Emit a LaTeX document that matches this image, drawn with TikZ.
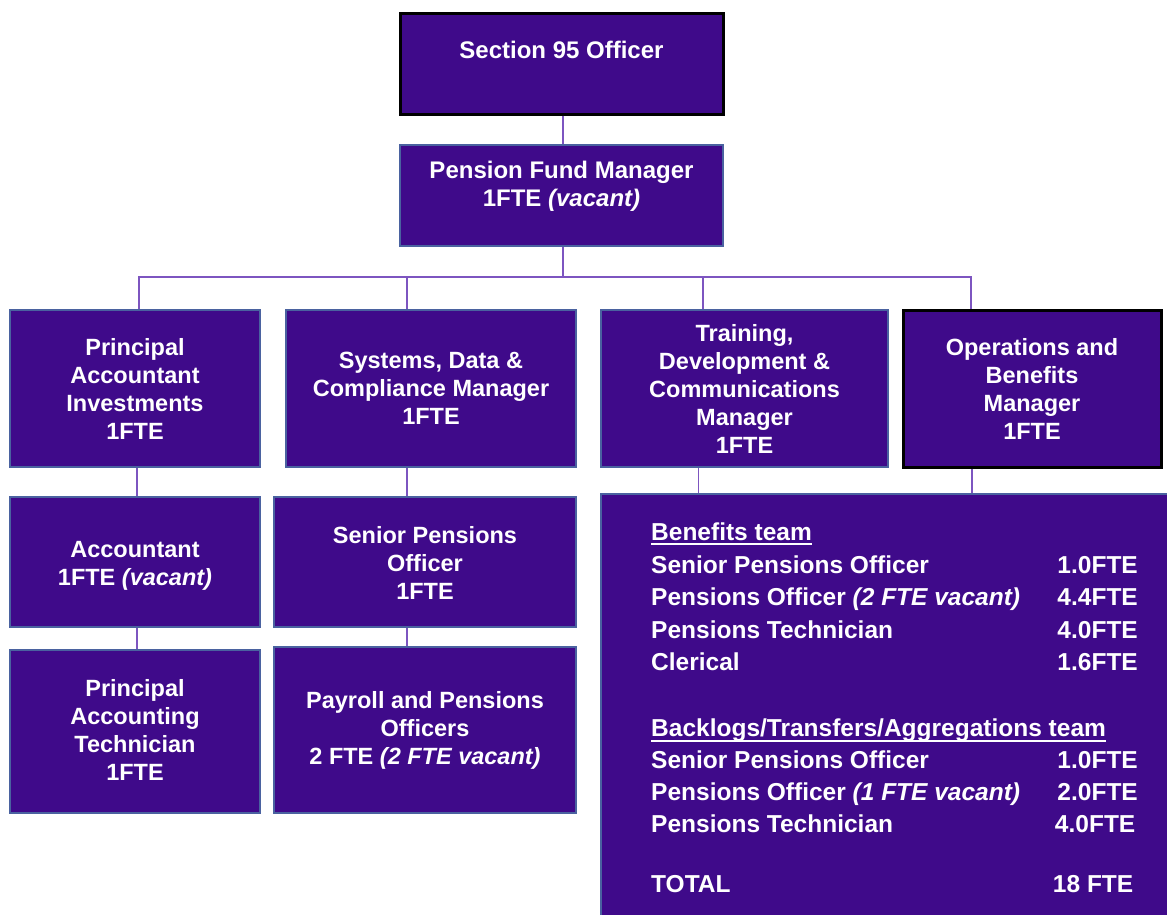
\documentclass[tikz,border=0pt]{standalone}
\usepackage{fontspec}
\setmainfont{Liberation Sans}

\definecolor{boxfill}{HTML}{3F0A8A}
\definecolor{boxedge}{HTML}{4A62A0}
\definecolor{linkcol}{HTML}{7D55C0}

\newcommand\topfont{\fontsize{24}{28.5}\selectfont\bfseries}
\newcommand\midfont{\fontsize{23.5}{28}\selectfont\bfseries}
\newcommand\listfont{\fontsize{24.5}{32.5}\selectfont\bfseries}
% underline with a fixed offset below the baseline
\newcommand\teamhead[1]{\setbox0\hbox{#1}\rlap{\rule[-5pt]{\wd0}{1.6pt}}\box0}

\begin{document}
\begin{tikzpicture}[x=1pt,y=-1pt,
  box/.style={draw=boxedge, line width=2pt, fill=boxfill, inner sep=0pt},
  keybox/.style={box, draw=black, line width=3pt},
  lbl/.style={text=white, align=center, inner sep=0pt, font=\midfont},
  toplbl/.style={lbl, font=\topfont},
  row/.style={text=white, inner sep=0pt, font=\listfont, anchor=base west},
  fte/.style={text=white, inner sep=0pt, font=\listfont, anchor=base east},
  link/.style={draw=linkcol, line width=1.8pt}]

\clip (0,0) rectangle (1167,914);
\fill[white] (0,0) rectangle (1167,914);

% boxes
\node[keybox, minimum width=323pt, minimum height=101pt] (s95) at (561.5,63.5) {};
\node[box, minimum width=323pt, minimum height=101pt] (pfm) at (561.5,195.5) {};
\node[box, minimum width=250pt, minimum height=157pt] (pai) at (135,388.5) {};
\node[box, minimum width=290pt, minimum height=157pt] (sds) at (431,388.5) {};
\node[box, minimum width=287pt, minimum height=157pt] (tdc) at (744.5,388.5) {};
\node[keybox, minimum width=258pt, minimum height=157pt] (obm) at (1032,388.5) {};
\node[box, minimum width=250pt, minimum height=129.5pt] (acc) at (135,561.75) {};
\node[box, minimum width=302pt, minimum height=129.5pt] (spo) at (425,561.75) {};
\node[box, minimum width=250pt, minimum height=163pt] (pat) at (135,731.5) {};
\node[box, minimum width=302pt, minimum height=166pt] (ppo) at (425,730) {};
\node[box, minimum width=584pt, minimum height=441pt] (team) at (893,714.5) {};

% box texts
\node[toplbl, yshift=13.5pt] (s95-t) at (s95) {Section 95 Officer};
\node[toplbl, yshift=9pt] (pfm-t) at (pfm) {Pension Fund Manager\\1FTE \textit{(vacant)}};
\node[lbl] (pai-t) at (pai) {Principal\\Accountant\\Investments\\1FTE};
\node[lbl] (sds-t) at (sds) {Systems, Data \&\\Compliance Manager\\1FTE};
\node[lbl] (tdc-t) at (tdc) {Training,\\Development \&\\Communications\\Manager\\1FTE};
\node[lbl] (obm-t) at (obm) {Operations and\\Benefits\\Manager\\1FTE};
\node[lbl, yshift=-4pt] (acc-t) at (acc) {Accountant\\1FTE \textit{(vacant)}};
\node[lbl, yshift=-1pt] (spo-t) at (spo) {Senior Pensions\\Officer\\1FTE};
\node[lbl, yshift=1.5pt] (pat-t) at (pat) {Principal\\Accounting\\Technician\\1FTE};
\node[lbl] (ppo-t) at (ppo) {Payroll and Pensions\\Officers\\2 FTE \textit{(2 FTE vacant)}};

% team listing
\node[row] (h1) at (651,540) {\teamhead{Benefits team}};
\node[row] (a1) at (651,573.3) {Senior Pensions Officer};
\node[row] (a2) at (651,605.8) {Pensions Officer \textit{(2 FTE vacant)}};
\node[row] (a3) at (651,638.3) {Pensions Technician};
\node[row] (a4) at (651,670.8) {Clerical};
\node[fte] (f1) at (1138,573.3) {1.0FTE};
\node[fte] (f2) at (1138,605.8) {4.4FTE};
\node[fte] (f3) at (1138,638.3) {4.0FTE};
\node[fte] (f4) at (1138,670.8) {1.6FTE};
\node[row] (h2) at (651,736.7) {\teamhead{Backlogs/Transfers/Aggregations team}};
\node[row] (b1) at (651,768.3) {Senior Pensions Officer};
\node[row] (b2) at (651,800.7) {Pensions Officer \textit{(1 FTE vacant)}};
\node[row] (b3) at (651,832.7) {Pensions Technician};
\node[fte] (g1) at (1138,768.3) {1.0FTE};
\node[fte] (g2) at (1138,800.7) {2.0FTE};
\node[fte] (g3) at (1135.5,832.7) {4.0FTE};
\node[row] (tot) at (651,892.7) {TOTAL};
\node[fte] (totv) at (1133.5,892.7) {18 FTE};

% connectors
\coordinate (bus) at (563,277);
\draw[link] (s95.south -| 563,0) -- (pfm.north -| 563,0);
\draw[link] (pfm.south -| 563,0) -- (bus);
\draw[link] (pai.north -| 139,0) |- (bus) -| (obm.north -| 971,0);
\draw[link] (sds.north -| 407,0) -- (bus -| 407,0);
\draw[link] (tdc.north -| 703,0) -- (bus -| 703,0);
\draw[link] (pai.south -| 137,0) -- (acc.north -| 137,0);
\draw[link] (acc.south -| 137,0) -- (pat.north -| 137,0);
\draw[link] (sds.south -| 407,0) -- (spo.north -| 407,0);
\draw[link] (spo.south -| 407,0) -- (ppo.north -| 407,0);
\draw[link] (tdc.south -| 698.5,0) -- (team.north -| 698.5,0);
\draw[link] (obm.south -| 972,0) -- (team.north -| 972,0);
\end{tikzpicture}
\end{document}
